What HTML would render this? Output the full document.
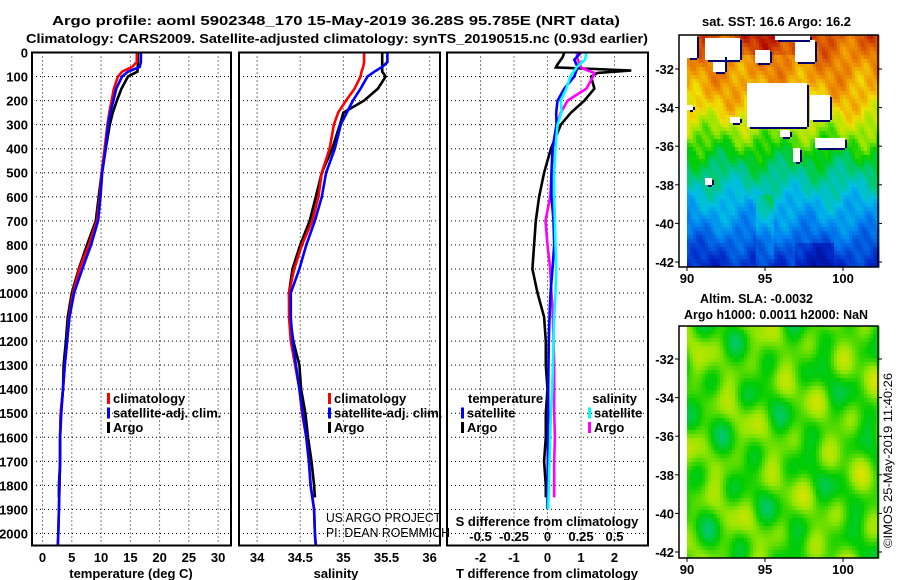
<!DOCTYPE html>
<html><head><meta charset="utf-8">
<style>
html,body{margin:0;padding:0;background:#fff;}
svg{display:block;}
text{font-family:"Liberation Sans",Arial,sans-serif;}
.b{font-weight:bold;font-size:13px;}
</style></head>
<body>
<svg id="fig" width="900" height="580" viewBox="0 0 900 580" xmlns="http://www.w3.org/2000/svg">
<text class="b" x="52" y="25" font-size="15" textLength="568" lengthAdjust="spacingAndGlyphs">Argo profile: aoml 5902348_170 15-May-2019 36.28S 95.785E (NRT data)</text>
<text class="b" x="26" y="43" font-size="15" textLength="622" lengthAdjust="spacingAndGlyphs">Climatology: CARS2009. Satellite-adjusted climatology: synTS_20190515.nc (0.93d earlier)</text>
<g id="p1"></g>
<g id="p2"></g>
<g id="p3"></g>
<g id="maps"></g>
<text x="326" y="522" font-size="13" textLength="115" lengthAdjust="spacingAndGlyphs">US ARGO PROJECT</text>
<text x="326" y="537" font-size="13" textLength="124" lengthAdjust="spacingAndGlyphs">PI: DEAN ROEMMICH</text>
<text class="b" x="702" y="26" font-size="14" textLength="149" lengthAdjust="spacingAndGlyphs">sat. SST: 16.6 Argo: 16.2</text>
<text class="b" x="700" y="303" font-size="14" textLength="113" lengthAdjust="spacingAndGlyphs">Altim. SLA: -0.0032</text>
<text class="b" x="684" y="319" font-size="14" textLength="184" lengthAdjust="spacingAndGlyphs">Argo h1000: 0.0011 h2000: NaN</text>
<text x="892" y="548" font-size="12" textLength="175" lengthAdjust="spacingAndGlyphs" transform="rotate(-90 892 548)">©IMOS 25-May-2019 11:40:26</text>
</svg>
<script>
// ---- data ----
const argoDepth = [0,20,50,80,100,150,200,250,300,400,500,600,700,800,900,1000,1100,1200,1300,1400,1500,1600,1700,1800,1850];
const argoTemp  = [16.3,16.3,16.3,16.2,14.6,13.5,12.7,12.0,11.5,10.8,10.1,9.6,9.1,7.6,6.2,5.0,4.3,4.0,3.6,3.5,3.1,3.0,3.0,2.8,2.8];
const argoSal   = [35.45,35.45,35.45,35.45,35.49,35.40,35.24,35.00,34.96,34.87,34.75,34.68,34.61,34.50,34.41,34.37,34.38,34.42,34.49,34.51,34.56,34.59,34.63,34.66,34.67];
const climDepth = [0,40,60,80,100,150,200,250,300,400,500,600,700,800,900,1000,1100,1200,1300,1400,1500,1600,1700,1800,1900,2000,2050];
const climTemp  = [16.1,16.1,15.3,13.6,12.9,12.2,11.8,11.4,11.1,10.6,10.1,9.8,9.3,7.9,6.3,5.2,4.5,4.2,3.8,3.5,3.1,3.0,3.0,2.9,2.8,2.7,2.6];
const climSal   = [35.24,35.24,35.23,35.21,35.20,35.13,35.03,34.94,34.89,34.84,34.75,34.71,34.64,34.52,34.43,34.37,34.37,34.39,34.44,34.49,34.52,34.57,34.60,34.62,34.66,34.67,34.68];
const satTemp   = [16.8,16.8,16.6,14.6,13.6,12.6,12.1,11.6,11.2,10.8,10.2,9.9,9.5,8.3,6.8,5.4,4.6,4.2,3.8,3.5,3.2,3.0,3.0,2.9,2.8,2.7,2.6];
const satSal    = [35.51,35.51,35.45,35.36,35.28,35.20,35.11,35.04,34.97,34.90,34.80,34.75,34.67,34.57,34.49,34.39,34.39,34.41,34.45,34.49,34.53,34.57,34.60,34.62,34.66,34.67,34.68];
const dArgoDepth = [0,20,50,62,75,85,100,150,200,250,300,400,500,600,700,800,900,1000,1100,1200,1300,1400,1500,1600,1700,1800,1850];
const dArgoT     = [0.5,0.45,0.3,0.25,2.5,1.5,1.3,1.4,1.1,0.7,0.4,0.1,-0.1,-0.25,-0.35,-0.4,-0.45,-0.3,-0.1,-0.05,-0.05,0,-0.05,-0.05,-0.1,-0.05,-0.05];
const dArgoS     = [0.22,0.22,0.24,0.25,0.3,0.35,0.34,0.29,0.15,0.1,0.07,0.04,0.03,0.02,-0.015,0,0.02,0.03,0.04,0.045,0.05,0.05,0.05,0.055,0.05,0.05,0.05];
const dSatDepth  = [0,30,60,100,150,200,250,300,400,500,600,700,800,900,1000,1100,1200,1300,1400,1500,1600,1700,1800,1900];
const dSatT      = [1.0,0.8,0.9,0.8,0.5,0.3,0.26,0.27,0.15,0.12,0.12,0.18,0.2,0.15,0.09,0.06,0.04,0.03,0.02,0.02,0.01,0.01,0.0,0.0];
const dSatS      = [0.29,0.28,0.22,0.17,0.14,0.10,0.105,0.075,0.06,0.05,0.05,0.055,0.06,0.065,0.06,0.05,0.045,0.04,0.035,0.025,0.02,0.015,0.01,0.005];
const depthTicks = [0,100,200,300,400,500,600,700,800,900,1000,1100,1200,1300,1400,1500,1600,1700,1800,1900,2000];
const tempTicks = [0,5,10,15,20,25,30];
const salTicks = [34,34.5,35,35.5,36];
const tdTicks = [-2,-1,0,1,2];
const sdTicks = [-0.5,-0.25,0,0.25,0.5];

const NS='http://www.w3.org/2000/svg';
function mk(parent,tag,attrs,txt){const e=document.createElementNS(NS,tag);for(const k in attrs)e.setAttribute(k,attrs[k]);if(txt!==undefined)e.textContent=txt;parent.appendChild(e);return e;}
const Y0=52.5,Y1=545.5,DMAX=2050;
const yD=d=>Y0+d/DMAX*(Y1-Y0);

function panel(g,x0,x1,vmin,vmax,ticks,showY){
  const xs=v=>x0+(v-vmin)/(vmax-vmin)*(x1-x0);
  depthTicks.forEach(d=>{const y=yD(d);
    const l=mk(g,'line',{x1:x0,x2:x1,y1:y,y2:y,stroke:'#000','stroke-width':1,'stroke-dasharray':'1,3'});
    
    
    if(showY){const t=mk(g,'text',{x:28,y:y+5,'text-anchor':'end',class:'b'},String(d));
      
      }
  });
  ticks.forEach(v=>{const x=xs(v);
    const l=mk(g,'line',{x1:x,x2:x,y1:Y0,y2:Y1,stroke:'#000','stroke-width':1,'stroke-dasharray':'1,3'});
    
    
  });
  return xs;
}
function frame(g,x0,x1){const r=mk(g,'rect',{x:x0,y:Y0,width:x1-x0,height:Y1-Y0,fill:'none',stroke:'#000','stroke-width':2});
  
  }
function line(g,xs,depths,vals,color,name){
  let d='';depths.forEach((dp,i)=>{d+=(i?'L':'M')+xs(vals[i]).toFixed(1)+','+yD(dp).toFixed(1);});
  const p=mk(g,'path',{d:d,fill:'none',stroke:color,'stroke-width':2.6,'stroke-linejoin':'miter'});
  
  
}
function xlabels(g,xs,ticks,y,fmt){ticks.forEach(v=>{const t=mk(g,'text',{x:xs(v),y:y,'text-anchor':'middle',class:'b'},fmt(v));
  
  });}
function legend(g,x,y,items){items.forEach((it,i)=>{
  const r=mk(g,'rect',{x:x,y:y+i*14.5-10,width:3,height:11,fill:it[0]});
  
  
  const t=mk(g,'text',{x:x+6,y:y+i*14.5,class:'b'},it[1]);
  
  });}

// Panel 1
const g1=document.getElementById('p1');
const xt=panel(g1,32,231,-1.8,32.2,tempTicks,true);
line(g1,xt,argoDepth,argoTemp,'#000','argo-temperature-line');
line(g1,xt,climDepth,climTemp,'#f00','climatology-temperature-line');
line(g1,xt,climDepth,satTemp,'#00f','satellite-temperature-line');
frame(g1,32,231);
xlabels(g1,xt,tempTicks,562,v=>String(v));
mk(g1,'text',{x:131,y:578,'text-anchor':'middle',class:'b',},'temperature (deg C)');
legend(g1,107,403,[['#f00','climatology'],['#00f','satellite-adj. clim.'],['#000','Argo']]);

// Panel 2
const g2=document.getElementById('p2');
const xsal=panel(g2,239,440,33.79,36.12,salTicks,false);
line(g2,xsal,argoDepth,argoSal,'#000','argo-salinity-line');
line(g2,xsal,climDepth,climSal,'#f00','climatology-salinity-line');
line(g2,xsal,climDepth,satSal,'#00f','satellite-salinity-line');
frame(g2,239,440);
xlabels(g2,xsal,salTicks,562,v=>String(v));
mk(g2,'text',{x:336,y:578,'text-anchor':'middle',class:'b',},'salinity');
legend(g2,328,403,[['#f00','climatology'],['#00f','satellite-adj. clim.'],['#000','Argo']]);

// Panel 3
const g3=document.getElementById('p3');
const xtd=panel(g3,447,648,-3,3,tdTicks,false);
const xsd=v=>xtd(v*4);
line(g3,xtd,dArgoDepth,dArgoT,'#000','argo-temperature-difference-line');
line(g3,xsd,dArgoDepth,dArgoS,'#f0f','argo-salinity-difference-line');
line(g3,xtd,dSatDepth,dSatT,'#00f','satellite-temperature-difference-line');
line(g3,xsd,dSatDepth,dSatS,'#0ff','satellite-salinity-difference-line');
frame(g3,447,648);
xlabels(g3,xtd,tdTicks,562,v=>String(v));
sdTicks.forEach(v=>{const t=mk(g3,'text',{x:xsd(v),y:541,'text-anchor':'middle',class:'b'},String(v));
  
  });
mk(g3,'text',{x:547,y:526,'text-anchor':'middle',class:'b',},'S difference from climatology');
mk(g3,'text',{x:547,y:578,'text-anchor':'middle',class:'b',},'T difference from climatology');
mk(g3,'text',{x:468,y:403,class:'b',},'temperature');
legend(g3,461,417.5,[['#00f','satellite'],['#000','Argo']]);
mk(g3,'text',{x:637,y:403,'text-anchor':'end',class:'b',},'salinity');
legend(g3,588,417.5,[['#0ff','satellite'],['#f0f','Argo']]);

// ---- maps (images) ----
const gm=document.getElementById('maps');
const MX0=679,MX1=878;
const lonX=l=>687+(l-90)*15.6;
const CM=[[0,0,0,130],[0.15,0,40,200],[0.3,0,130,240],[0.4,0,190,230],[0.5,0,200,120],[0.58,0,205,0],[0.66,150,230,0],[0.74,240,225,0],[0.82,240,150,0],[0.9,220,90,0],[1,170,0,0]];
function cmap(v){v=Math.max(0,Math.min(1,v));for(let i=1;i<CM.length;i++){if(v<=CM[i][0]){const a=CM[i-1],b=CM[i],t=(v-a[0])/(b[0]-a[0]);
  return 'rgb('+Math.round(a[1]+(b[1]-a[1])*t)+','+Math.round(a[2]+(b[2]-a[2])*t)+','+Math.round(a[3]+(b[3]-a[3])*t)+')';}}return 'rgb(170,0,0)';}
function drawMap(y0,y1,latY,field,whites,name){
  const g=mk(gm,'g',{});
  
  
  const cw=3,ch=4;
  for(let y=y0;y<y1;y+=ch){for(let x=687;x<MX1;x+=cw){
    const lon=90+(x+cw/2-687)/15.6, lat=-32-(y+ch/2-latY)/19.3;
    mk(g,'rect',{x:x,y:y,width:cw+0.5,height:ch+0.5,fill:cmap(field(lon,lat))});
  }}
  whites.forEach(w=>mk(g,'rect',{x:w[0],y:w[1],width:w[2],height:w[3],fill:'#fff'}));
  whites.forEach(w=>{mk(g,'rect',{x:w[0]+w[2],y:w[1]+2,width:2,height:w[3]-2,fill:'#00006e'});mk(g,'rect',{x:w[0]+3,y:w[1]+w[3],width:w[2]-3,height:2,fill:'#00006e'});});
  mk(g,'rect',{x:MX0,y:y0,width:MX1-MX0,height:y1-y0,fill:'none',stroke:'#000','stroke-width':1.5});
  [90,95,100].forEach(l=>{const t=mk(g,'text',{x:lonX(l),y:y1+16,'text-anchor':'middle',class:'b'},String(l));
    
    
    mk(g,'line',{x1:lonX(l),x2:lonX(l),y1:y1,y2:y1+4,stroke:'#000'});});
  [-32,-34,-36,-38,-40,-42].forEach(la=>{const y=latY+(-32-la)*19.3;
    const t=mk(g,'text',{x:674,y:y+5,'text-anchor':'end',class:'b'},String(la));
    
    
    mk(g,'line',{x1:MX0-4,x2:MX0,y1:y,y2:y,stroke:'#000'});mk(g,'line',{x1:MX1,x2:MX1+4,y1:y,y2:y,stroke:'#000'});});
}
const latStops=[-42.3,-41,-40,-39,-38,-37,-36,-35,-34,-33,-32,-30.2];
const valStops=[0.15,0.24,0.32,0.38,0.45,0.52,0.6,0.68,0.76,0.8,0.83,0.9];
function latBase(lat){if(lat<=latStops[0])return valStops[0];for(let i=1;i<latStops.length;i++){if(lat<=latStops[i]){const t=(lat-latStops[i-1])/(latStops[i]-latStops[i-1]);return valStops[i-1]+(valStops[i]-valStops[i-1])*t;}}return valStops[valStops.length-1];}
const sst=(lon,lat)=>{let v=latBase(lat);v+=0.03*Math.sin(lon*1.7+lat*0.9)+0.025*Math.sin(lon*3.1-lat*2.3)+0.02*Math.sin(lon*7+lat*5);
  if(lat>-31.2&&lon>93&&lon<97.5)v+=0.05;
  if(lat<-38.5&&lon>94.5&&lon<95.5)v+=0.06;
  if(lat<-41&&lon>97&&lon<99.5)v-=0.06;return v;};
drawMap(35,267,69,sst,[[687,35,10,23],[705,38,35,22],[713,55,12,17],[755,50,15,13],[775,35,35,5],[795,40,20,22],[747,83,60,44],[810,95,20,25],[815,138,30,10],[687,105,6,5],[730,117,10,6],[705,178,7,7],[793,148,7,14],[780,130,10,7]],'sst-map');
const sla=(lon,lat)=>{let v=0.615+0.035*Math.sin(lon*1.3+lat*1.1)+0.03*Math.sin(lon*2.1-lat*1.7+1)+0.025*Math.cos(lon*0.9+lat*2.4)+0.02*Math.sin(lon*3.3+lat*0.7+2);return v;};
drawMap(326,558,359,sla,[],'sla-map');
</script>
</body></html>
